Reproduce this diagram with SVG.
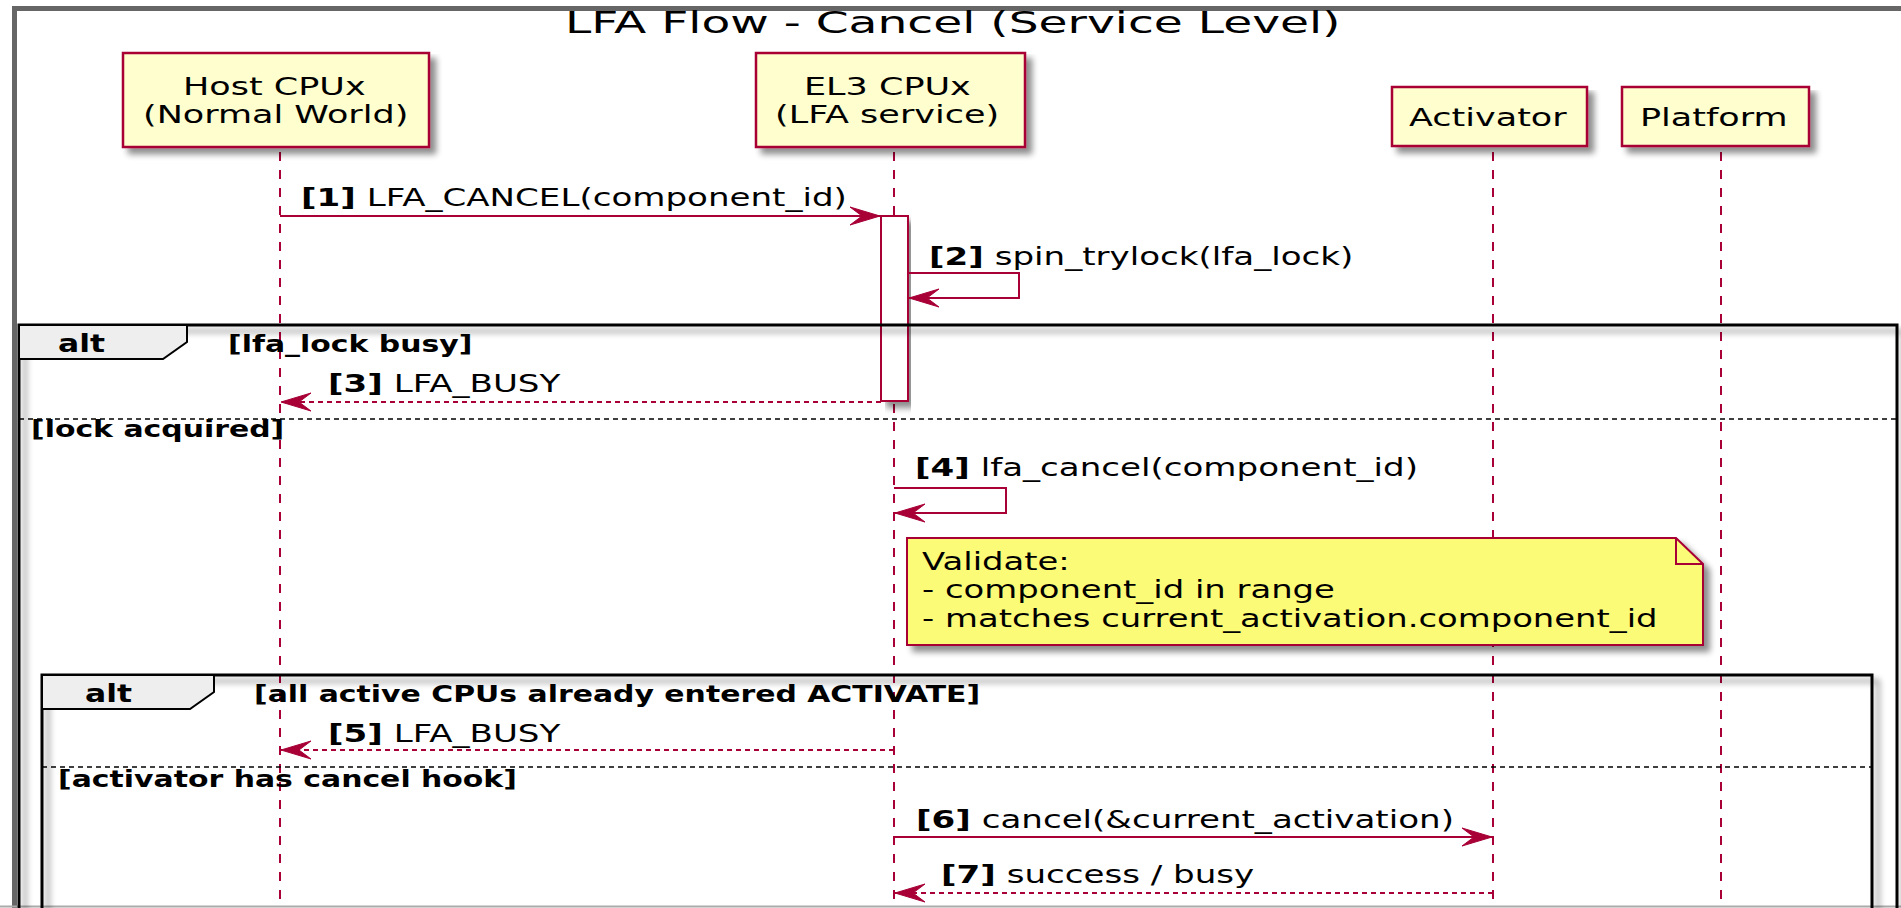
<svg xmlns="http://www.w3.org/2000/svg" width="1901" height="908" viewBox="0 0 1901 908">
  <style>
    text { font-family: "DejaVu Sans", Verdana, sans-serif; fill: #000; transform-box: fill-box; transform-origin: 0 0; }
    .title { font-size: 31px; transform: scaleX(1.52); }
    .part { font-size: 25px; transform: scaleX(1.4); }
    .msg { font-size: 24px; transform: scaleX(1.42); }
    .note { font-size: 24px; transform: scaleX(1.41); }
    .kw { font-size: 24px; font-weight: bold; transform: scaleX(1.31); }
    .guard { font-size: 23px; font-weight: bold; transform: scaleX(1.3); }
    b, .b { font-weight: bold; }
    .box { fill: #FEFECE; stroke: #A80036; stroke-width: 2.5; }
    .life { stroke: #A80036; stroke-width: 2; stroke-dasharray: 9 9; fill: none; }
    .act { fill: #FFFFFF; stroke: #A80036; stroke-width: 2; }
    .call { stroke: #A80036; stroke-width: 2; fill: none; }
    .ret { stroke: #A80036; stroke-width: 2; fill: none; stroke-dasharray: 5 4; }
    .frame { fill: none; stroke: #000; stroke-width: 3; }
    .tab { fill: #EEEEEE; stroke: #000; stroke-width: 2; }
    .sep { stroke: #000; stroke-width: 1.5; stroke-dasharray: 5 4; }
    .notebox { fill: #FBFB77; stroke: #A80036; stroke-width: 2; }
  </style>
  <defs>
    <filter id="shadow" x="-5%" y="-5%" width="115%" height="130%">
      <feGaussianBlur in="SourceAlpha" stdDeviation="3"/>
      <feOffset dx="6" dy="6" result="b"/>
      <feComponentTransfer><feFuncA type="linear" slope="0.45"/></feComponentTransfer>
      <feMerge><feMergeNode/><feMergeNode in="SourceGraphic"/></feMerge>
    </filter>
    <marker id="head" viewBox="-31 -10 32 20" markerWidth="32" markerHeight="20" refX="0" refY="0" orient="auto" markerUnits="userSpaceOnUse">
      <path d="M0,0 L-30,-9 L-18,0 L-30,9 Z" fill="#A80036" stroke="#A80036" stroke-width="1" stroke-dasharray="none"/>
    </marker>
  </defs>

  <rect width="1901" height="908" fill="#FFFFFF"/>

  <!-- outer diagram frame -->
  <path d="M14.5,912 V8.5 H1910" fill="none" stroke="#666666" stroke-width="5"/>
  <line x1="0" y1="906.5" x2="1901" y2="906.5" stroke="#AAAAAA" stroke-width="2"/>

  <text class="title" x="565" y="33">LFA Flow - Cancel (Service Level)</text>

  <!-- lifelines -->
  <g id="lifelines">
    <line class="life" x1="280" y1="152" x2="280" y2="908"/>
    <line class="life" x1="894" y1="152" x2="894" y2="908"/>
    <line class="life" x1="1493" y1="152" x2="1493" y2="908"/>
    <line class="life" x1="1721" y1="152" x2="1721" y2="908"/>
  </g>

  <!-- participants -->
  <g id="host">
    <rect class="box" x="123" y="53" width="306" height="94" filter="url(#shadow)"/>
    <text class="part" x="183" y="95">Host CPUx</text>
    <text class="part" x="143" y="123">(Normal World)</text>
  </g>
  <g id="el3">
    <rect class="box" x="756" y="53" width="269" height="94" filter="url(#shadow)"/>
    <text class="part" x="804" y="95">EL3 CPUx</text>
    <text class="part" x="775" y="123">(LFA service)</text>
  </g>
  <g id="activator">
    <rect class="box" x="1392" y="87" width="195" height="59" filter="url(#shadow)"/>
    <text class="part" x="1409" y="126">Activator</text>
  </g>
  <g id="platform">
    <rect class="box" x="1622" y="87" width="187" height="59" filter="url(#shadow)"/>
    <text class="part" x="1640" y="126">Platform</text>
  </g>

  <!-- activation bar on EL3 -->
  <g id="el3-activation">
    <rect class="act" x="881" y="216" width="27" height="185" filter="url(#shadow)"/>
  </g>

  <!-- combined fragments -->
  <g id="alt-lock">
    <path class="frame" d="M19,912 V325 H1897 V912" filter="url(#shadow)"/>
    <path class="tab" d="M19,325 H187 V342 L163,359 H19 Z"/>
    <text class="kw" x="58" y="352">alt</text>
    <text class="guard" x="228" y="352">[lfa_lock busy]</text>
    <line class="sep" x1="19" y1="419" x2="1897" y2="419"/>
    <text class="guard" x="31" y="437">[lock acquired]</text>
  </g>

  <g id="note-validate">
    <path class="notebox" d="M907,538 H1676 L1703,564 V645 H907 Z" filter="url(#shadow)"/>
    <path d="M1676,538 V564 H1703" fill="none" stroke="#A80036" stroke-width="2"/>
    <text class="note" x="922" y="570">Validate:</text>
    <text class="note" x="922" y="598">- component_id in range</text>
    <text class="note" x="922" y="627">- matches current_activation.component_id</text>
  </g>

  <g id="alt-cancel">
    <path class="frame" d="M42,912 V675 H1872 V912" filter="url(#shadow)"/>
    <path class="tab" d="M42,675 H214 V692 L190,709 H42 Z"/>
    <text class="kw" x="85" y="702">alt</text>
    <text class="guard" x="254" y="702">[all active CPUs already entered ACTIVATE]</text>
    <line class="sep" x1="42" y1="767" x2="1872" y2="767"/>
    <text class="guard" x="58" y="787">[activator has cancel hook]</text>
  </g>

  <!-- messages -->
  <g id="messages">
    <line class="call" x1="280" y1="216" x2="880" y2="216" marker-end="url(#head)"/>
    <text class="msg" x="301" y="206"><tspan class="b">[1]</tspan> LFA_CANCEL(component_id)</text>

    <path class="call" d="M908,273 H1019 V298 H909" marker-end="url(#head)"/>
    <text class="msg" x="929" y="265"><tspan class="b">[2]</tspan> spin_trylock(lfa_lock)</text>

    <line class="ret" x1="881" y1="402" x2="281" y2="402" marker-end="url(#head)"/>
    <text class="msg" x="328" y="392"><tspan class="b">[3]</tspan> LFA_BUSY</text>

    <path class="call" d="M894,488 H1006 V513 H895" marker-end="url(#head)"/>
    <text class="msg" x="915" y="476"><tspan class="b">[4]</tspan> lfa_cancel(component_id)</text>

    <line class="ret" x1="894" y1="750" x2="281" y2="750" marker-end="url(#head)"/>
    <text class="msg" x="328" y="742"><tspan class="b">[5]</tspan> LFA_BUSY</text>

    <line class="call" x1="894" y1="837" x2="1492" y2="837" marker-end="url(#head)"/>
    <text class="msg" x="916" y="828"><tspan class="b">[6]</tspan> cancel(&amp;current_activation)</text>

    <line class="ret" x1="1493" y1="893" x2="895" y2="893" marker-end="url(#head)"/>
    <text class="msg" x="941" y="883"><tspan class="b">[7]</tspan> success / busy</text>
  </g>
</svg>
